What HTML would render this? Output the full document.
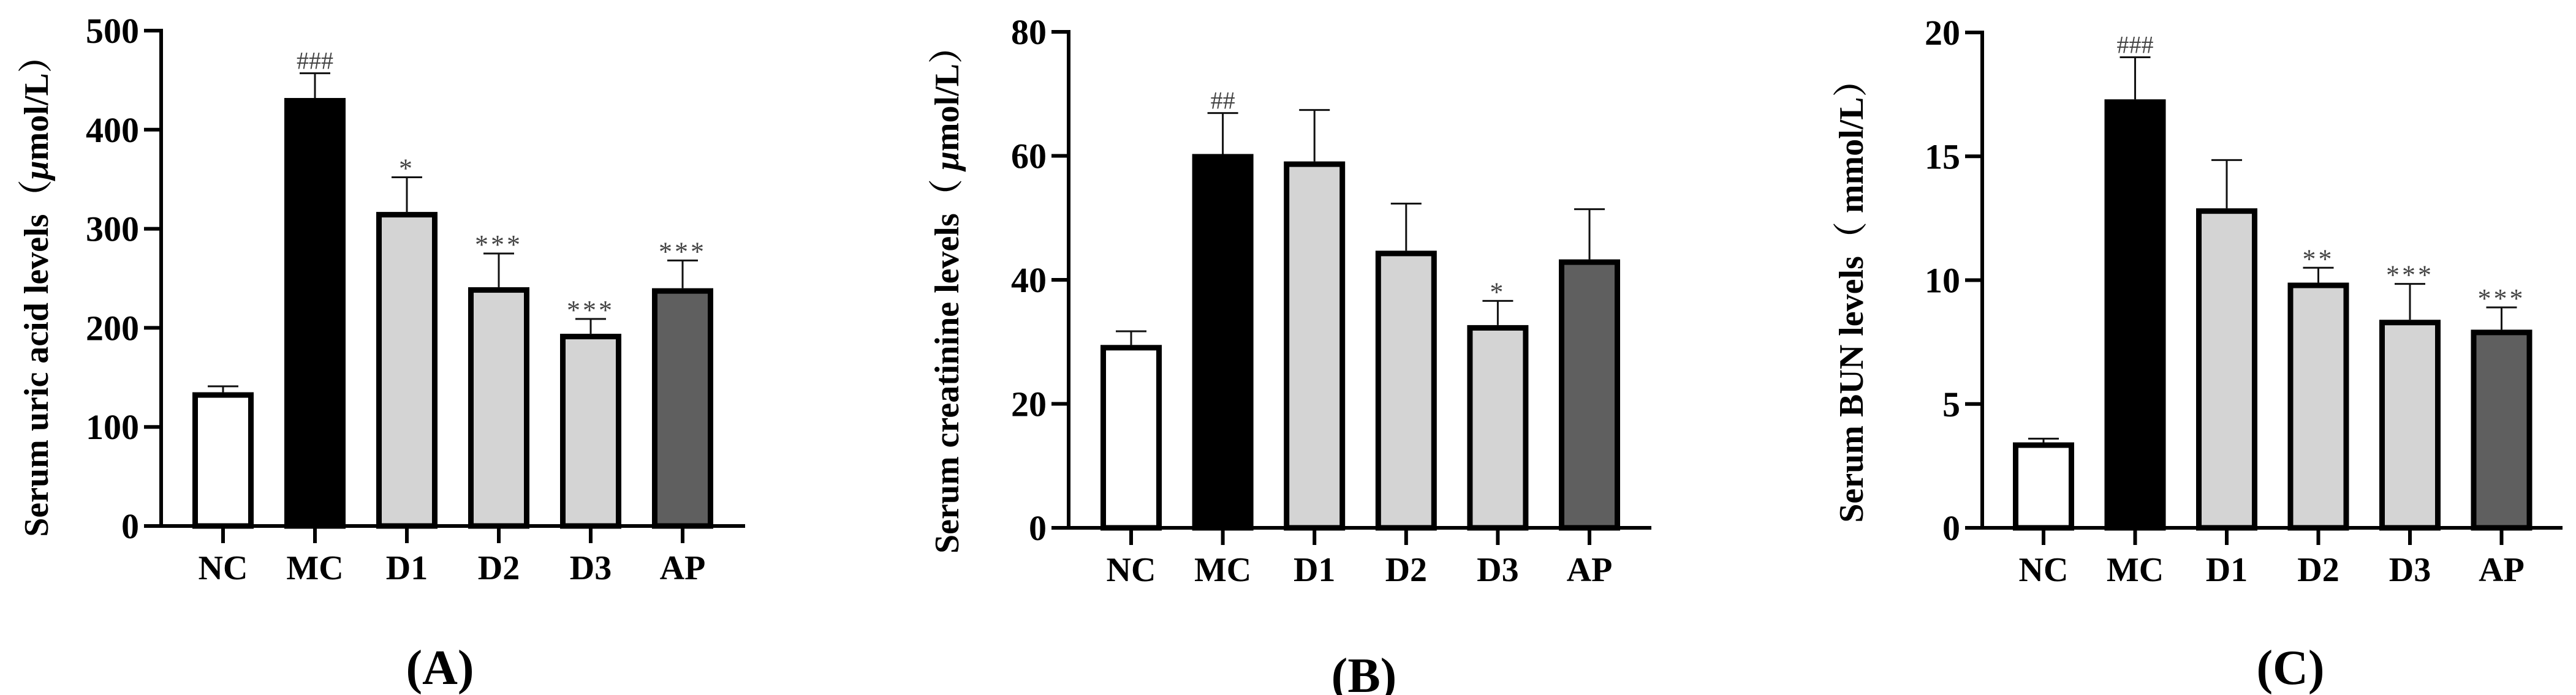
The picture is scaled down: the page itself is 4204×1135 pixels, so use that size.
<!DOCTYPE html>
<html><head><meta charset="utf-8"><style>
html,body{margin:0;padding:0;background:#fff;}
svg{display:block;}
text{font-family:"Liberation Serif","Noto Serif CJK SC",serif;font-weight:bold;}
</style></head><body>
<svg id="fig" width="4204" height="1135" viewBox="0 0 4204 1135" xmlns="http://www.w3.org/2000/svg"></svg>
<script>
const categories = ["NC","MC","D1","D2","D3","AP"];
const fills = ["#ffffff","#000000","#d4d4d4","#d4d4d4","#d4d4d4","#5f5f5f"];
const valuesA = [135, 432, 317, 241, 194, 240];
const errA = [141, 457, 352, 275, 209, 268];
const marksA = ["", "###", "*", "***", "***", "***"];
const ticksA = [0, 100, 200, 300, 400, 500];
const valuesB = [29.5, 60.3, 59.1, 44.7, 32.7, 43.3];
const errB = [31.7, 66.9, 67.4, 52.3, 36.6, 51.4];
const marksB = ["", "##", "", "", "*", ""];
const ticksB = [0, 20, 40, 60, 80];
const valuesC = [3.45, 17.3, 12.9, 9.9, 8.4, 8.0];
const errC = [3.6, 19.0, 14.85, 10.5, 9.85, 8.9];
const marksC = ["", "###", "", "**", "***", "***"];
const ticksC = [0, 5, 10, 15, 20];

const NS = "http://www.w3.org/2000/svg";
const svg = document.getElementById("fig");
function mk(tag, attrs, parent, txt){
  const e = document.createElementNS(NS, tag);
  for (const k in attrs) e.setAttribute(k, attrs[k]);
  if (txt !== undefined) e.textContent = txt;
  (parent||svg).appendChild(e);
  return e;
}
const panels = [
  {id:"a", ax:263, x0:364, step:150, end:1216, top:50, zero:859, max:500, vals:valuesA, errs:errA, marks:marksA, ticks:ticksA,
   title:"Serum uric acid levels（", unit:"μ", unit2:"mol/L）", tx:58, ty:470, lab:"(A)", lx:718, ly:1117},
  {id:"b", ax:1744, x0:1846, step:149.6, end:2695, top:52, zero:862, max:80, vals:valuesB, errs:errB, marks:marksB, ticks:ticksB,
   title:"Serum creatinine levels（ ", unit:"μ", unit2:"mol/L）", tx:1544, ty:476, lab:"(B)", lx:2226, ly:1130},
  {id:"c", ax:3235, x0:3335, step:149.5, end:4182, top:53, zero:862, max:20, vals:valuesC, errs:errC, marks:marksC, ticks:ticksC,
   title:"Serum BUN levels（ mmol/L）", unit:"", unit2:"", tx:3020, ty:478, lab:"(C)", lx:3738, ly:1117}
];
panels.forEach(p => {
  const g = mk("g", {});
  
  
  const y = v => p.zero - v / p.max * (p.zero - p.top);
  const x = i => p.x0 + i * p.step;
  // bars
  p.vals.forEach((v, i) => {
    const bw = 100, sw = 9;
    const r = mk("rect", {x: x(i) - bw/2 + sw/2, y: y(v) + sw/2, width: bw - sw, height: p.zero - y(v) - sw/2,
      fill: fills[i], stroke: "#000", "stroke-width": sw}, g);
    
    
    const eb = mk("path", {d: `M${x(i)},${y(v)} V${y(p.errs[i])} M${x(i)-25},${y(p.errs[i])} H${x(i)+25}`,
      stroke: "#111", "stroke-width": 3, fill: "none"}, g);
    
    
    if (p.marks[i]) {
      const isHash = p.marks[i][0] === "#";
      const t = mk("text", {x: x(i), y: y(p.errs[i]) - (isHash ? 7 : 0), "text-anchor": "middle",
        "font-size": isHash ? 40 : 44, fill: "#444", style: "font-weight:normal;letter-spacing:" + (isHash ? 0 : 4) + "px"}, g,
        p.marks[i]);
      
      
    }
    const tk = mk("line", {x1: x(i), x2: x(i), y1: p.zero, y2: p.zero + 28, stroke: "#000", "stroke-width": 6}, g);
    
    
    const xl = mk("text", {x: x(i), y: p.zero + 87, "text-anchor": "middle", "font-size": 56}, g, categories[i]);
    
    
  });
  // axes
  const yax = mk("line", {x1: p.ax, x2: p.ax, y1: p.top - 3, y2: p.zero + 3, stroke: "#000", "stroke-width": 6}, g);
  
  
  const xax = mk("line", {x1: p.ax - 28, x2: p.end, y1: p.zero, y2: p.zero, stroke: "#000", "stroke-width": 6}, g);
  
  
  p.ticks.forEach(t => {
    const l = mk("line", {x1: p.ax - 28, x2: p.ax, y1: y(t), y2: y(t), stroke: "#000", "stroke-width": 6}, g);
    
    
    const tl = mk("text", {x: p.ax - 36, y: y(t) + 20, "text-anchor": "end", "font-size": 58}, g, String(t));
    
    
  });
  const tt = mk("text", {x: 0, y: 0, "text-anchor": "middle", "font-size": 56,
    transform: `translate(${p.tx + 20},${p.ty}) rotate(-90)`}, g);
  
  
  mk("tspan", {}, tt, p.title);
  if (p.unit) mk("tspan", {style: "font-style:italic"}, tt, p.unit);
  if (p.unit2) mk("tspan", {}, tt, p.unit2);
  const pl = mk("text", {x: p.lx, y: p.ly, "text-anchor": "middle", "font-size": 80}, g, p.lab);
  
  
});
</script>
</body></html>
